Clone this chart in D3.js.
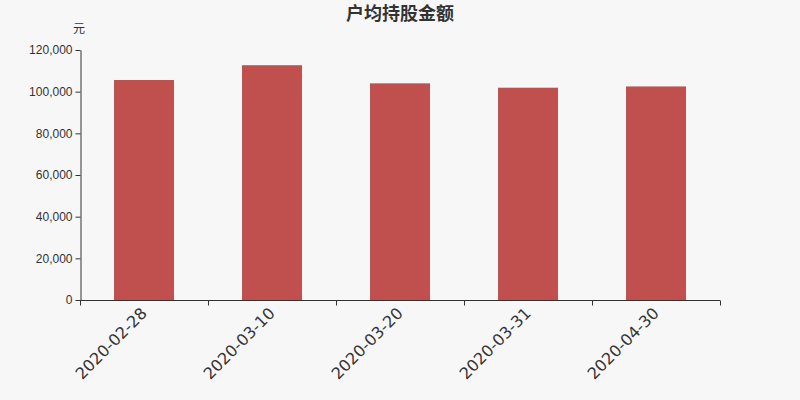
<!DOCTYPE html>
<html>
<head>
<meta charset="utf-8">
<script src="https://cdn.jsdelivr.net/npm/d3@7"></script>
<style>
  body { margin: 0; background: #f7f7f7; }
  svg { display: block; font-family: "DejaVu Sans", "Noto Sans CJK SC", sans-serif; }
</style>
</head>
<body>
<script>
// data
const dates = ['2020-02-28', '2020-03-10', '2020-03-20', '2020-03-31', '2020-04-30'];
const amounts = [105600, 112700, 104000, 101900, 102500];
const yTicks = [0, 20000, 40000, 60000, 80000, 100000, 120000];

const width = 800;
const height = 400;
const margin = { top: 50, right: 80, bottom: 100, left: 80 };

const svg = d3.select('body').append('svg').attr('width', width).attr('height', height);

svg.append('rect').attr('width', width).attr('height', height).attr('fill', '#f7f7f7');

// setting axis
const x = d3.scaleBand()
  .domain(dates)
  .range([margin.left, width - margin.right]);

const y = d3.scaleLinear()
  .domain([0, 120000])
  .range([height - margin.bottom, margin.top]);

// bars
const barW = 60;
svg.append('g')
  .selectAll('rect')
  .data(dates)
  .enter()
  .append('rect')
  .attr('x', (d) => x(d) + x.bandwidth() / 2 - barW / 2)
  .attr('y', (d, i) => y(amounts[i]))
  .attr('width', barW)
  .attr('height', (d, i) => y(0) - y(amounts[i]))
  .attr('fill', '#c0504d');

// y axis
const yAxis = svg.append('g')
  .attr('transform', `translate(${margin.left + 0.5}, 0)`)
  .call(d3.axisLeft(y).tickValues(yTicks).tickFormat(d3.format(',')).tickSize(5).tickSizeOuter(0));
yAxis.select('.domain').attr('stroke', '#333');
yAxis.selectAll('line').attr('stroke', '#333');
yAxis.selectAll('text').attr('fill', '#333').attr('font-size', '12px').attr('x', -8);

// x axis, ticks on band boundaries
const xAxis = svg.append('g')
  .attr('transform', `translate(0, ${height - margin.bottom + 0.5})`);
xAxis.append('line')
  .attr('x1', margin.left).attr('x2', width - margin.right)
  .attr('stroke', '#333');
const bounds = dates.map((d) => x(d)).concat([x(dates[dates.length - 1]) + x.bandwidth()]);
xAxis.selectAll('.tk')
  .data(bounds)
  .enter()
  .append('line')
  .attr('x1', (d) => Math.round(d) + 0.5).attr('x2', (d) => Math.round(d) + 0.5)
  .attr('y1', 0).attr('y2', 5)
  .attr('stroke', '#333');
xAxis.selectAll('text')
  .data(dates)
  .enter()
  .append('text')
  .text((d) => d)
  .attr('transform', (d) => `translate(${x(d) + x.bandwidth() / 2 - 4}, 6) rotate(-45)`)
  .attr('text-anchor', 'end')
  .attr('dy', '0.7em')
  .attr('fill', '#333')
  .attr('font-size', '16px');

// title and unit
svg.append('text')
  .text('户均持股金额')
  .attr('x', width / 2)
  .attr('y', 20)
  .attr('text-anchor', 'middle')
  .attr('font-size', '18px')
  .attr('font-weight', 'bold')
  .attr('fill', '#333');

svg.append('text')
  .text('元')
  .attr('x', 79)
  .attr('y', 33)
  .attr('text-anchor', 'middle')
  .attr('font-size', '12px')
  .attr('fill', '#333');
</script>
</body>
</html>
